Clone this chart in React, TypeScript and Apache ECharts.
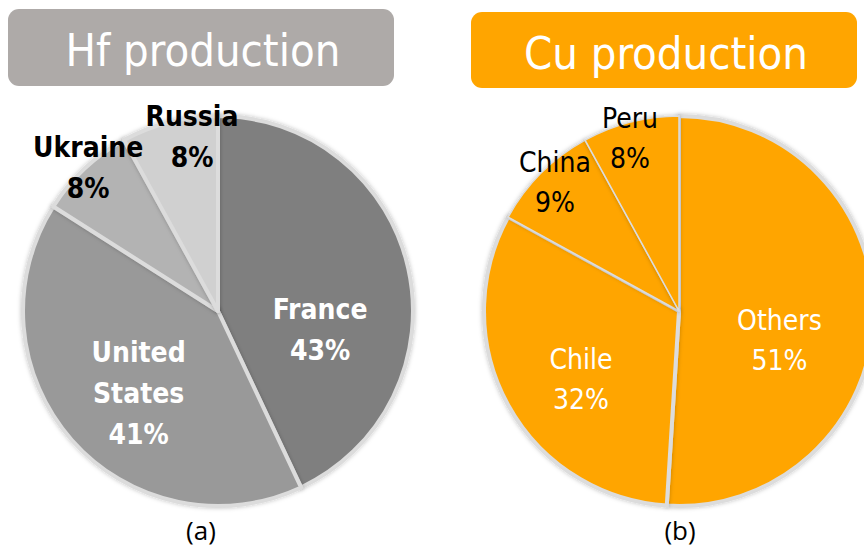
import React, { useEffect, useRef } from "react";
import * as echarts from "echarts";

const hfNames = ["France", "United States", "Ukraine", "Russia"];
const hfValues = [43, 41, 8, 8];
const cuNames = ["Others", "Chile", "China", "Peru"];
const cuValues = [51, 32, 9, 8];

const hfColors = ["#7f7f7f", "#999999", "#b3b3b3", "#d0d0d0"];
const hfLabelColors = ["#ffffff", "#ffffff", "#000000", "#000000"];
const hfOffsets = [[4, 41], [-4, 16], [-61, -70], [-1, -77]];
const cuLabelColors = ["#ffffff", "#ffffff", "#000000", "#000000"];
const cuOffsets = [[0, 26], [-10, 20], [-53, -57], [-24, -75]];
const cuBorders = [4, 4, 1.5, 1.5];

const FONT = "'DejaVu Sans Condensed', 'Liberation Sans Narrow', sans-serif";
const CAPTION_FONT = "'Open Sans', Lato, sans-serif";

export default function App() {
  const ref = useRef<HTMLDivElement>(null);
  useEffect(() => {
    if (!ref.current) return;
    const chart = echarts.init(ref.current, undefined, { renderer: "svg" });
    const fmt = (p: any) => p.name.replace(" ", "\n") + "\n" + p.value + "%";
    chart.setOption({
      animation: false,
      backgroundColor: "#ffffff",
      graphic: [
        { type: "rect", shape: { x: 8, y: 9, width: 386, height: 77, r: 11 }, style: { fill: "#aeaaa8" } },
        { type: "text", x: 203, y: 50, style: { text: "Hf production", fill: "#ffffff", fontSize: 45, fontFamily: FONT, align: "center", verticalAlign: "middle" } },
        { type: "rect", shape: { x: 471, y: 12, width: 386, height: 76, r: 11 }, style: { fill: "#ffa500" } },
        { type: "text", x: 666, y: 53, style: { text: "Cu production", fill: "#ffffff", fontSize: 45, fontFamily: FONT, align: "center", verticalAlign: "middle" } },
        { type: "text", x: 201, y: 530, style: { text: "(a)", fill: "#000000", fontSize: 26, lineHeight: 30, fontFamily: CAPTION_FONT, align: "center", verticalAlign: "middle" } },
        { type: "text", x: 680, y: 530, style: { text: "(b)", fill: "#000000", fontSize: 26, lineHeight: 30, fontFamily: CAPTION_FONT, align: "center", verticalAlign: "middle" } },
      ],
      series: [
        {
          type: "pie",
          center: [218, 311],
          radius: [0, 195],
          startAngle: 90,
          clockwise: true,
          silent: true,
          labelLine: { show: false },
          label: {
            show: true,
            position: "inside",
            formatter: fmt,
            fontFamily: FONT,
            fontWeight: "bold",
            fontSize: 28,
            lineHeight: 41,
            align: "center",
          },
          itemStyle: { borderColor: "#dcdcdc", borderWidth: 4, shadowBlur: 4, shadowColor: "rgba(0,0,0,0.25)" },
          data: hfNames.map((n, i) => ({
            name: n,
            value: hfValues[i],
            itemStyle: { color: hfColors[i] },
            label: { color: hfLabelColors[i], offset: hfOffsets[i] },
          })),
        },
        {
          type: "pie",
          center: [679, 311],
          radius: [0, 195],
          startAngle: 90,
          clockwise: true,
          silent: true,
          labelLine: { show: false },
          label: {
            show: true,
            position: "inside",
            formatter: fmt,
            fontFamily: FONT,
            fontSize: 28,
            lineHeight: 40,
            align: "center",
          },
          itemStyle: { color: "#ffa500", borderColor: "#dcdcdc", shadowBlur: 4, shadowColor: "rgba(0,0,0,0.25)" },
          data: cuNames.map((n, i) => ({
            name: n,
            value: cuValues[i],
            itemStyle: { borderWidth: cuBorders[i] },
            label: { color: cuLabelColors[i], offset: cuOffsets[i] },
          })),
        },
      ],
    });
    return () => chart.dispose();
  }, []);
  return <div ref={ref} style={{ position: "fixed", left: 0, top: 0, width: 864, height: 547 }} />;
}
